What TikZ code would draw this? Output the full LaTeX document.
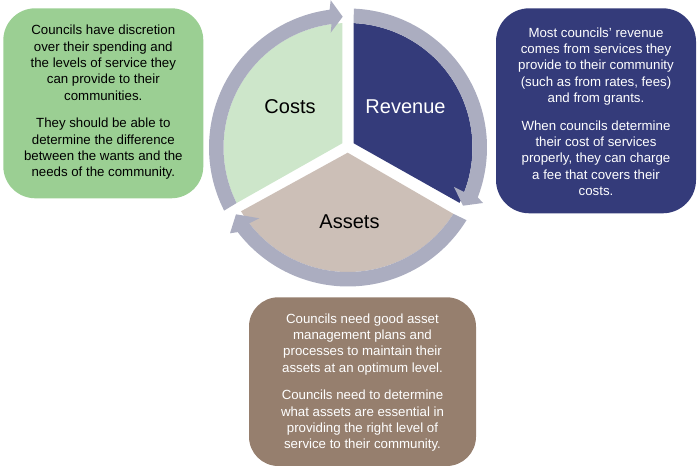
\documentclass[tikz,border=0pt]{standalone}
\usepackage{fontspec}
\setmainfont{Liberation Sans}
\definecolor{boxgreen}{HTML}{9BCF93}
\definecolor{navy}{HTML}{343B7A}
\definecolor{boxbrown}{HTML}{967F6E}
\definecolor{lightgreen}{HTML}{CDE6CA}
\definecolor{beige}{HTML}{CCBFB7}
\definecolor{ringc}{HTML}{ABADC0}
\tikzset{
  infobox/.style={inner sep=0pt,align=center,anchor=center,
    font=\fontsize{9.95pt}{12.25pt}\selectfont},
  seglabel/.style={font=\fontsize{15pt}{18pt}\selectfont},
  ringband/.style={fill=ringc}
}
\begin{document}
\begin{tikzpicture}[x=.75pt,y=.75pt]
\useasboundingbox (0,0) rectangle (700,470);
% text boxes
\path[fill=boxgreen,rounded corners=24pt] (3.3,271.7) rectangle (203.3,461.7);
\node[infobox,text=black] (costtext) at (103.3,367.5) {Councils have discretion\\over their spending and\\the levels of service they\\can provide to their\\communities.\\[8.5pt]They should be able to\\determine the difference\\between the wants and the\\needs of the community.};
\path[fill=navy,rounded corners=25pt] (496,256.7) rectangle (696,461.7);
\node[infobox,text=white] (revtext) at (596,358.5) {Most councils' revenue\\comes from services they\\provide to their community\\(such as from rates, fees)\\and from grants.\\[8.5pt]When councils determine\\their cost of services\\properly, they can charge\\a fee that covers their\\costs.};
\path[fill=boxbrown,rounded corners=22pt] (249,4) rectangle (476,172.7);
\node[infobox,text=white] (assettext) at (362.5,87.5) {Councils need good asset\\management plans and\\processes to maintain their\\assets at an optimum level.\\[8.5pt]Councils need to determine\\what assets are essential in\\providing the right level of\\service to their community.};
% cycle, coordinates relative to its centre
\begin{scope}[shift={(348,322.5)}]
  % sectors
  \fill[navy] (5.7,4.2) -- (87.4:124.5) arc[start angle=87.4,end angle=-26.4,radius=124.5] -- cycle;
  \fill[lightgreen] (-5.7,4.2) -- (92.6:124.5) arc[start angle=92.6,end angle=206.5,radius=124.5] -- cycle;
  \fill[beige] (-0.3,-5.2) -- (-32.2:124.5) arc[start angle=-32.2,end angle=-149.2,radius=124.5] -- cycle;
  % ring arrows
  \fill[ringband] (87.6:139) arc[start angle=87.6,end angle=-21,radius=139]
     -- (135,-55.5) -- (115,-58.2) -- (106,-39.5)
     -- (-21:124.5) arc[start angle=-21,end angle=87.4,radius=124.5] -- cycle;
  \fill[ringband] (207:139) arc[start angle=207,end angle=97.6,radius=139]
     -- (-17.3,147.3) -- (-5.3,130.8) -- (-17.3,114.8)
     -- (97.6:124.5) arc[start angle=97.6,end angle=206.5,radius=124.5] -- cycle;
  \fill[ringband] (-31.5:139) arc[start angle=-31.5,end angle=-142.5,radius=139]
     -- (-118,-85.8) -- (-112,-66.8) -- (-88.7,-70.8)
     -- (-142.5:124.5) arc[start angle=-142.5,end angle=-32.2,radius=124.5] -- cycle;
\end{scope}
\node[seglabel,text=black] (costs) at (290,363.5) {Costs};
\node[seglabel,text=white] (revenue) at (405.5,363.5) {Revenue};
\node[seglabel,text=black] (assets) at (349.5,248) {Assets};
\end{tikzpicture}
\end{document}
